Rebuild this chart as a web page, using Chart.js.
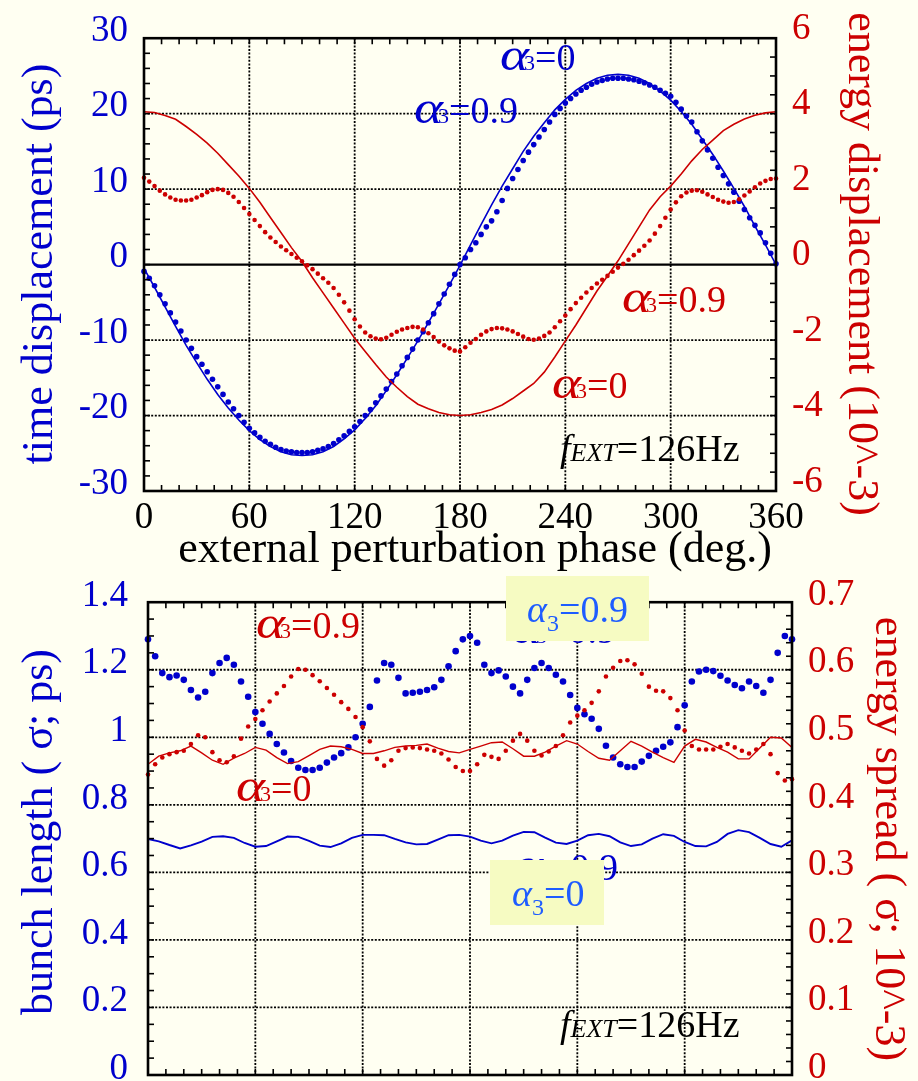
<!DOCTYPE html>
<html><head><meta charset="utf-8">
<script src="https://cdn.jsdelivr.net/npm/chart.js@4.4.1/dist/chart.umd.min.js"></script>
<style>
html,body{margin:0;padding:0;background:#fffff2;}
body{width:918px;height:1081px;position:relative;overflow:hidden;}
canvas{position:absolute;left:0;display:block;}
</style></head><body>
<canvas id="c1" width="918" height="580" style="top:0"></canvas>
<canvas id="c2" width="918" height="560" style="top:560px"></canvas>
<script>
const BLUE='#0000cc', RED='#cc0000', BOXBLUE='#1e5cff', BOXBG='#f6fbc2';
const FONT='"Liberation Serif", "Times New Roman", serif';

// phase grids (deg) on which the curves were read
const phaseStep3 = Array.from({length:121},(_,i)=>i*3);
const phaseStep4 = Array.from({length:91},(_,i)=>i*4);
const phaseStep6 = Array.from({length:61},(_,i)=>i*6);

// ---------- top panel ----------
const topPhaseTicks=[0,60,120,180,240,300,360];
const topLeftTicks=[-30,-20,-10,0,10,20,30];
const topRightTicks=[-6,-4,-2,0,2,4,6];

// time displacement, alpha3 = 0 (solid, ps), step 6 deg
const timeDispA0=[-0.5,-3.0,-5.6,-8.2,-10.7,-13.0,-15.2,-17.2,-19.0,-20.6,-22.0,-23.2,-24.1,-24.8,-25.2,-25.3,-25.2,-24.8,-24.1,-23.1,-21.9,-20.4,-18.7,-16.7,-14.6,-12.4,-10.1,-7.7,-5.2,-2.7,-0.1,2.6,5.3,7.9,10.4,12.7,15.0,17.0,18.8,20.5,21.9,23.1,24.0,24.7,25.1,25.2,25.1,24.7,24.0,23.0,21.8,20.3,18.6,16.6,14.6,12.4,10.1,7.7,5.1,2.6,0.0];
// time displacement, alpha3 = 0.9 (dots, ps), step 3 deg
const timeDispA09=[-0.9,-1.8,-2.8,-4.0,-5.2,-6.4,-7.6,-8.8,-10.0,-11.1,-12.2,-13.2,-14.2,-15.2,-16.2,-17.2,-18.2,-19.1,-20.0,-20.9,-21.7,-22.3,-22.9,-23.4,-23.8,-24.2,-24.5,-24.7,-24.8,-24.9,-24.9,
-24.9,-24.8,-24.6,-24.4,-24.1,-23.7,-23.2,-22.7,-22.1,-21.5,-20.8,-20.0,-19.2,-18.3,-17.4,-16.5,-15.5,-14.5,-13.4,-12.3,-11.2,-10.0,-8.9,-7.7,-6.5,-5.2,-3.9,-2.6,-1.3,0.0,
0.9,2.0,2.9,4.0,5.0,5.8,7.0,8.5,10.1,11.4,12.6,13.8,14.9,15.9,16.9,17.9,18.9,19.9,20.7,21.4,22.0,22.6,23.1,23.5,23.9,24.2,24.4,24.6,24.7,24.7,24.7,24.6,24.5,24.3,24.1,23.8,23.5,23.1,22.7,
22.3,21.5,20.6,19.7,18.9,17.6,16.4,15.2,14.1,12.9,11.8,10.7,9.6,8.4,7.3,6.2,5.2,4.2,2.9,1.5,0.1];
// energy displacement, alpha3 = 0 (solid, 1e-3), step 6 deg
const energyDispA0=[4.05,4.03,3.95,3.85,3.66,3.45,3.22,2.95,2.65,2.35,2.02,1.65,1.25,0.85,0.45,0.08,-0.35,-0.75,-1.15,-1.55,-1.95,-2.3,-2.65,-2.98,-3.25,-3.5,-3.7,-3.82,-3.92,-3.98,-4.0,-3.98,-3.92,-3.84,-3.72,-3.55,-3.35,-3.15,-2.85,-2.45,-2.02,-1.6,-1.15,-0.7,-0.3,0.1,0.55,1.0,1.45,1.8,2.08,2.4,2.75,3.05,3.3,3.55,3.72,3.86,3.96,4.02,4.05];
// energy displacement, alpha3 = 0.9 (dots, 1e-3), step 3 deg
const energyDispA09=[2.30,2.20,2.08,1.96,1.86,1.78,1.72,1.70,1.70,1.72,1.78,1.84,1.92,1.98,2.00,1.98,1.90,1.80,1.66,1.50,1.34,1.18,1.02,0.86,0.72,0.60,0.48,0.38,0.28,0.18,0.09,-0.02,-0.12,-0.24,-0.36,-0.48,-0.62,-0.80,-1.00,-1.22,-1.45,-1.64,-1.80,-1.90,-1.96,-1.98,-1.94,-1.86,-1.78,-1.72,-1.68,-1.65,-1.66,-1.72,-1.82,-1.92,-2.04,-2.14,-2.22,-2.28,-2.30,
-2.19,-2.07,-1.97,-1.86,-1.77,-1.71,-1.68,-1.69,-1.72,-1.77,-1.84,-1.91,-1.97,-1.99,-1.96,-1.89,-1.80,-1.66,-1.50,-1.35,-1.18,-1.02,-0.88,-0.74,-0.62,-0.50,-0.40,-0.30,-0.19,-0.08,0.02,0.13,0.25,0.37,0.50,0.64,0.82,1.02,1.24,1.46,1.65,1.81,1.91,1.96,1.97,1.93,1.86,1.79,1.72,1.67,1.64,1.66,1.73,1.83,1.94,2.05,2.15,2.22,2.27,2.28];

// ---------- bottom panel ----------
const botLeftTicks=[0,0.2,0.4,0.6,0.8,1,1.2,1.4];
const botRightTicks=[0,0.1,0.2,0.3,0.4,0.5,0.6,0.7];
// bunch length alpha3=0.9 (dots, ps), step 4 deg
const bunchA09=[1.29,1.24,1.19,1.178,1.183,1.17,1.14,1.118,1.135,1.19,1.22,1.235,1.215,1.165,1.12,1.075,1.04,1.01,0.98,0.955,0.93,0.91,0.903,0.903,0.91,0.925,0.94,0.953,0.97,1.0,1.04,1.09,1.168,1.22,1.215,1.176,1.13,1.132,1.135,1.14,1.148,1.17,1.21,1.255,1.29,1.30,1.28,1.215,1.19,1.198,1.18,1.15,1.13,1.17,1.205,1.22,1.205,1.185,1.165,1.125,1.087,1.068,1.055,1.025,0.975,0.94,0.92,0.912,0.912,0.928,0.945,0.96,0.972,0.985,1.03,1.095,1.165,1.195,1.2,1.196,1.182,1.168,1.155,1.145,1.165,1.152,1.132,1.17,1.25,1.30,1.29];
// energy spread alpha3=0.9 (dots, 1e-3), step 4 deg
const spreadA09=[0.445,0.46,0.47,0.475,0.478,0.48,0.49,0.503,0.5,0.478,0.466,0.463,0.472,0.498,0.516,0.527,0.54,0.553,0.565,0.576,0.59,0.601,0.6,0.592,0.583,0.573,0.563,0.552,0.542,0.53,0.515,0.494,0.468,0.458,0.466,0.48,0.484,0.485,0.484,0.482,0.48,0.476,0.467,0.456,0.45,0.45,0.46,0.474,0.471,0.468,0.48,0.495,0.505,0.495,0.48,0.473,0.479,0.487,0.503,0.522,0.532,0.54,0.551,0.568,0.59,0.603,0.613,0.614,0.608,0.594,0.575,0.569,0.568,0.558,0.54,0.51,0.487,0.482,0.482,0.482,0.486,0.49,0.485,0.48,0.476,0.482,0.49,0.475,0.447,0.436,0.438];
// bunch length alpha3=0 (solid, ps), step 6 deg
const bunchA0=[0.699,0.692,0.681,0.671,0.68,0.691,0.705,0.707,0.702,0.687,0.676,0.678,0.692,0.706,0.705,0.693,0.679,0.675,0.686,0.702,0.711,0.711,0.71,0.699,0.689,0.683,0.684,0.697,0.71,0.711,0.706,0.694,0.686,0.694,0.709,0.72,0.719,0.703,0.688,0.684,0.694,0.71,0.714,0.707,0.689,0.678,0.683,0.7,0.713,0.708,0.69,0.678,0.677,0.69,0.714,0.725,0.719,0.702,0.684,0.676,0.695];
// energy spread alpha3=0 (solid, 1e-3), step 6 deg
const spreadA0=[0.46,0.472,0.477,0.48,0.487,0.477,0.466,0.46,0.469,0.476,0.485,0.481,0.47,0.461,0.464,0.473,0.482,0.487,0.486,0.482,0.476,0.476,0.48,0.485,0.487,0.488,0.49,0.484,0.479,0.477,0.482,0.487,0.492,0.493,0.483,0.472,0.472,0.478,0.487,0.495,0.49,0.479,0.469,0.466,0.48,0.494,0.487,0.478,0.47,0.463,0.487,0.497,0.493,0.485,0.478,0.468,0.468,0.484,0.5,0.499,0.485];

const pts=(xs,ys)=>xs.map((x,i)=>({x,y:ys[i]}));

function drawPanel(chart,cfg){
  const {ctx,chartArea:a,scales}=chart;
  ctx.save();
  ctx.strokeStyle='#000';ctx.lineWidth=1.8;ctx.setLineDash([2,1.6]);
  cfg.xGrid.forEach(v=>{const X=scales.x.getPixelForValue(v);ctx.beginPath();ctx.moveTo(X,a.top);ctx.lineTo(X,a.bottom);ctx.stroke();});
  cfg.yGrid.forEach(v=>{const Y=scales.y.getPixelForValue(v);ctx.beginPath();ctx.moveTo(a.left,Y);ctx.lineTo(a.right,Y);ctx.stroke();});
  ctx.setLineDash([]);
  if(cfg.zero){ctx.lineWidth=2.2;const Y=scales.y.getPixelForValue(0);ctx.beginPath();ctx.moveTo(a.left,Y);ctx.lineTo(a.right,Y);ctx.stroke();}
  ctx.restore();
}
function drawFrame(chart,cfg){
  const {ctx,chartArea:a,scales}=chart;
  ctx.save();ctx.strokeStyle='#000';ctx.lineWidth=1.6;
  const L=6;
  for(let v=cfg.xMin;v<=cfg.xMax+1e-9;v+=cfg.xMinor){const X=scales.x.getPixelForValue(v);ctx.beginPath();ctx.moveTo(X,a.bottom);ctx.lineTo(X,a.bottom-L);ctx.moveTo(X,a.top);ctx.lineTo(X,a.top+L);ctx.stroke();}
  for(let v=cfg.yMin;v<=cfg.yMax+1e-9;v+=cfg.yMinor){const Y=scales.y.getPixelForValue(v);ctx.beginPath();ctx.moveTo(a.left,Y);ctx.lineTo(a.left+L,Y);ctx.stroke();}
  for(let v=cfg.y2Min;v<=cfg.y2Max+1e-9;v+=cfg.y2Minor){const Y=scales.y2.getPixelForValue(v);ctx.beginPath();ctx.moveTo(a.right,Y);ctx.lineTo(a.right-L,Y);ctx.stroke();}
  ctx.lineWidth=2.6;ctx.strokeRect(a.left,a.top,a.right-a.left,a.bottom-a.top);
  ctx.restore();
}
function rotText(ctx,txt,x,y,ang,color,size){
  ctx.save();ctx.translate(x,y);ctx.rotate(ang);ctx.fillStyle=color;ctx.font=size+'px '+FONT;
  ctx.textAlign='center';ctx.textBaseline='middle';ctx.fillText(txt,0,0);ctx.restore();
}
// big-alpha style label (top panel / red labels)
function alphaBig(ctx,x,base,color,tail){
  ctx.save();ctx.fillStyle=color;ctx.textAlign='left';ctx.textBaseline='alphabetic';
  ctx.font='italic 46px '+FONT;ctx.save();ctx.translate(x,base);ctx.scale(1.2,1);ctx.fillText('α',0,0);ctx.restore();
  let w=ctx.measureText('α').width*1.2;
  ctx.font='22px '+FONT;ctx.fillText('3',x+w-5,base);w+=ctx.measureText('3').width-5;
  ctx.font='38px '+FONT;ctx.fillText(tail,x+w,base);
  ctx.restore();
}
// subscript-style label (boxed)
function alphaSub(ctx,x,base,color,tail){
  ctx.save();ctx.fillStyle=color;ctx.textAlign='left';ctx.textBaseline='alphabetic';
  ctx.font='italic 38px '+FONT;ctx.fillText('α',x,base);let w=ctx.measureText('α').width;
  ctx.font='24px '+FONT;ctx.fillText('3',x+w,base+9);w+=ctx.measureText('3').width;
  ctx.font='38px '+FONT;ctx.fillText(tail,x+w,base);
  ctx.restore();
}
function fext(ctx,x,base){
  ctx.save();ctx.fillStyle='#000';ctx.textAlign='left';ctx.textBaseline='alphabetic';
  ctx.font='italic 38px '+FONT;ctx.fillText('f',x,base);let w=ctx.measureText('f').width;
  ctx.font='italic 26px '+FONT;ctx.fillText('EXT',x+w,base);w+=ctx.measureText('EXT').width;
  ctx.font='38px '+FONT;ctx.fillText('=126Hz',x+w,base);
  ctx.restore();
}

const tickFont={family:FONT,size:37};
const fmt=v=>String(v);

function makeChart(id,cfg){
  const plugin={id:'panel',
    beforeDatasetsDraw(chart){drawPanel(chart,cfg);},
    afterDatasetsDraw(chart){drawFrame(chart,cfg);},
    afterDraw(chart){cfg.labels(chart.ctx);}
  };
  return new Chart(document.getElementById(id),{
    type:'line',
    data:{datasets:cfg.datasets},
    options:{
      responsive:false,animation:false,devicePixelRatio:1,
      layout:{padding:{top:cfg.padTop,left:0,right:0,bottom:0}},
      plugins:{legend:{display:false},tooltip:{enabled:false}},
      elements:{line:{tension:0}},
      scales:{
        x:{type:'linear',min:cfg.xMin,max:cfg.xMax,
           afterBuildTicks:s=>{s.ticks=cfg.xTicks.map(v=>({value:v}));},
           afterFit:s=>{s.height=cfg.xAxisH;},
           grid:{display:false,drawTicks:false},border:{display:false},
           ticks:{display:cfg.showX,font:tickFont,color:'#000',padding:5,maxRotation:0,autoSkip:false,callback:fmt}},
        y:{type:'linear',position:'left',min:cfg.yMin,max:cfg.yMax,
           afterBuildTicks:s=>{s.ticks=cfg.yTicks.map(v=>({value:v}));},
           afterFit:s=>{s.width=cfg.leftW;},
           grid:{display:false,drawTicks:false},border:{display:false},
           ticks:{font:tickFont,color:BLUE,padding:cfg.leftPad,labelOffset:cfg.leftOff,autoSkip:false,callback:fmt}},
        y2:{type:'linear',position:'right',min:cfg.y2Min,max:cfg.y2Max,
           afterBuildTicks:s=>{s.ticks=cfg.y2Ticks.map(v=>({value:v}));},
           afterFit:s=>{s.width=cfg.rightW;},
           grid:{display:false,drawTicks:false},border:{display:false},
           ticks:{font:tickFont,color:RED,padding:16,labelOffset:cfg.rightOff,autoSkip:false,callback:fmt}}
      }
    },
    plugins:[plugin]
  });
}

// TOP
makeChart('c1',{
  padTop:29,xAxisH:89,leftW:144,rightW:142,leftPad:16,leftOff:-7,rightOff:-9,showX:true,
  xMin:0,xMax:360,xTicks:topPhaseTicks,xMinor:10,
  yMin:-30,yMax:30,yTicks:topLeftTicks,yMinor:2,
  y2Min:-6,y2Max:6,y2Ticks:topRightTicks,y2Minor:0.5,
  xGrid:[60,120,180,240,300],yGrid:[-20,-10,10,20],zero:true,
  datasets:[
    {data:pts(phaseStep6,energyDispA0),yAxisID:'y2',borderColor:RED,borderWidth:1.6,pointRadius:0,fill:false},
    {data:pts(phaseStep3,energyDispA09),yAxisID:'y2',showLine:false,pointRadius:2.3,pointBackgroundColor:RED,pointBorderWidth:0,clip:6},
    {data:pts(phaseStep6,timeDispA0),yAxisID:'y',borderColor:BLUE,borderWidth:1.6,pointRadius:0,fill:false},
    {data:pts(phaseStep3,timeDispA09),yAxisID:'y',showLine:false,pointRadius:2.8,pointBackgroundColor:BLUE,pointBorderWidth:0,clip:6}
  ],
  labels:(ctx)=>{
    rotText(ctx,'time displacement (ps)',40,264,-Math.PI/2,BLUE,44);
    rotText(ctx,'energy displacement (10^-3)',861,264,Math.PI/2,RED,44);
    ctx.save();ctx.fillStyle='#000';ctx.font='44px '+FONT;ctx.textAlign='center';ctx.textBaseline='alphabetic';
    ctx.fillText('external perturbation phase (deg.)',475,562);ctx.restore();
    alphaBig(ctx,500,70,BLUE,'=0');
    alphaBig(ctx,414,123,BLUE,'=0.9');
    alphaBig(ctx,622,312,RED,'=0.9');
    alphaBig(ctx,552,398,RED,'=0');
    fext(ctx,560,461);
  }
});

// BOTTOM (canvas top at 560)
makeChart('c2',{
  padTop:41,xAxisH:45,leftW:148,rightW:126,leftPad:20,leftOff:-6,rightOff:-7,showX:false,
  xMin:0,xMax:360,xTicks:topPhaseTicks,xMinor:10,
  yMin:0,yMax:1.4,yTicks:botLeftTicks,yMinor:0.05,
  y2Min:0,y2Max:0.7,y2Ticks:botRightTicks,y2Minor:0.02,
  xGrid:[60,120,180,240,300],yGrid:[0.2,0.4,0.6,0.8,1.0,1.2],zero:false,
  datasets:[
    {data:pts(phaseStep6,spreadA0),yAxisID:'y2',borderColor:RED,borderWidth:1.4,pointRadius:0,fill:false},
    {data:pts(phaseStep4,spreadA09),yAxisID:'y2',showLine:false,pointRadius:2.3,pointBackgroundColor:RED,pointBorderWidth:0,clip:6},
    {data:pts(phaseStep6,bunchA0),yAxisID:'y',borderColor:BLUE,borderWidth:1.9,pointRadius:0,fill:false},
    {data:pts(phaseStep4,bunchA09),yAxisID:'y',showLine:false,pointRadius:3.3,pointBackgroundColor:BLUE,pointBorderWidth:0,clip:6}
  ],
  labels:(ctx)=>{
    ctx.save();ctx.translate(0,-560);
    rotText(ctx,'bunch length ( σ; ps)',40,832,-Math.PI/2,BLUE,44);
    rotText(ctx,'energy spread ( σ; 10^-3)',888,839,Math.PI/2,RED,44);
    alphaBig(ctx,256,638,RED,'=0.9');
    alphaBig(ctx,236,801,RED,'=0');
    // labels partly hidden under the highlight boxes
    alphaBig(ctx,512,643,BLUE,'=0.9');
    alphaBig(ctx,514,880,BLUE,'=0.9');
    ctx.fillStyle=BOXBG;ctx.fillRect(506,576,143,65);ctx.fillRect(490,860,114,65);
    alphaSub(ctx,527,622,BOXBLUE,'=0.9');
    alphaSub(ctx,512,906,BOXBLUE,'=0');
    fext(ctx,560,1037);
    ctx.restore();
  }
});
</script>
</body></html>
